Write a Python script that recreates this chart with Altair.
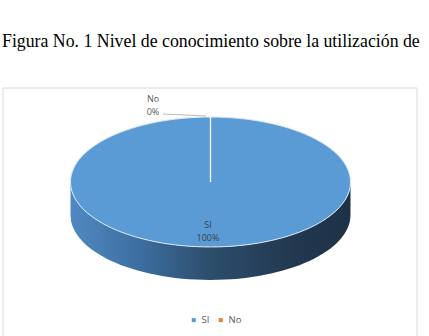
import altair as alt
import pandas as pd

# ---- data ----
categories = ["SI", "No"]
values = [100, 0]
colors = ["#5B9BD5", "#ED7D31"]
title_text = "Figura No. 1 Nivel de conocimiento sobre la utilización de"

df = pd.DataFrame({"category": categories, "value": values})

# ---- layout / style ----
W, H = 429, 336
CX, CY = 210.5, 182
RX = 140
RYR = 0.464     # vertical squash of the tilted pie
DEPTH = 0.236   # thickness of the pie, in radius units

top_path = f"M -1 0 A 1 {RYR} 0 1 1 1 0 A 1 {RYR} 0 1 1 -1 0 Z"
side_path = (f"M -1 0 L -1 {DEPTH} A 1 {RYR} 0 0 0 1 {DEPTH} "
             f"L 1 0 A 1 {RYR} 0 0 1 -1 0 Z")
SIZE = (2 * RX) ** 2

color_scale = alt.Scale(domain=categories, range=colors)

frame_data = alt.Data(values=[{"f": 1}])
frame = alt.Chart(frame_data).mark_rect(
    fill="white", stroke="#D9D9D9", strokeWidth=1
).encode(x=alt.value(3), x2=alt.value(417), y=alt.value(88), y2=alt.value(360))

title = alt.Chart(frame_data).mark_text(
    font="Liberation Serif", fontSize=17.8, color="#000000", align="left",
    baseline="alphabetic"
).encode(x=alt.value(2), y=alt.value(47), text=alt.value(title_text))

slices = alt.Chart(df).transform_filter("datum.value > 0")

side = slices.mark_point(
    shape=side_path, size=SIZE, filled=True, opacity=1, strokeWidth=0,
    color=alt.Gradient(
        gradient="linear", x1=0, x2=1, y1=0, y2=0,
        stops=[
            alt.GradientStop(color="#5089C2", offset=0),
            alt.GradientStop(color="#3C6E9F", offset=0.25),
            alt.GradientStop(color="#2C4D6C", offset=0.5),
            alt.GradientStop(color="#22384F", offset=0.8),
            alt.GradientStop(color="#1E3247", offset=1),
        ],
    ),
).encode(x=alt.value(CX), y=alt.value(CY))

top = alt.Chart(df).mark_point(
    shape=top_path, size=SIZE, filled=True, opacity=1,
    stroke="#DCE8F5", strokeWidth=1,
).encode(
    x=alt.value(CX), y=alt.value(CY),
    size=alt.condition("datum.value > 0", alt.value(SIZE), alt.value(0)),
    color=alt.Color("category:N", scale=color_scale, title=None,
                    legend=alt.Legend(orient="none", legendX=189, legendY=315,
                                      direction="horizontal", symbolType="square",
                                      symbolSize=16, labelFontSize=9.5,
                                      labelFont="Open Sans", labelColor="#595959",
                                      columnPadding=6, symbolStrokeWidth=0,
                                      labelOffset=3)),
)

divider = alt.Chart(df).transform_filter("datum.category == 'No'").mark_rule(
    color="white", strokeWidth=1.3
).encode(x=alt.value(CX), y=alt.value(117), y2=alt.value(CY))

leader = alt.Chart(df).transform_filter("datum.category == 'No'").mark_rule(
    color="#A6A6A6", strokeWidth=0.8
).encode(x=alt.value(163), x2=alt.value(206), y=alt.value(114), y2=alt.value(116))

labels = alt.Chart(df).transform_calculate(
    label="datum.category + '\\n' + format(datum.value, 'd') + '%'"
)

lab_no = labels.transform_filter("datum.category == 'No'").mark_text(
    font="Open Sans", fontSize=9, color="#595959", lineBreak="\n",
    lineHeight=13, align="center", baseline="middle"
).encode(x=alt.value(153), y=alt.value(99), text="label:N")

lab_si = labels.transform_filter("datum.category == 'SI'").mark_text(
    font="Open Sans", fontSize=9, color="#404040", lineBreak="\n",
    lineHeight=13, align="center", baseline="middle"
).encode(x=alt.value(208), y=alt.value(225), text="label:N")

chart = alt.layer(frame, title, side, top, divider, leader, lab_no, lab_si).properties(
    width=W, height=H, padding=0, autosize=alt.AutoSizeParams(type="none"),
    background="white"
).configure_view(stroke=None)

chart.save("out.html", embed_options={"renderer": "svg", "actions": False})
